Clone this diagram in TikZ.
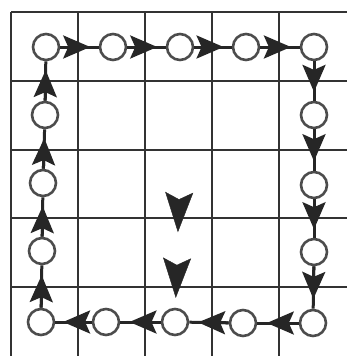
\documentclass[tikz,border=0pt]{standalone}
\usepackage{tikz}
\usetikzlibrary{arrows.meta,decorations.markings,calc}

\tikzset{
  cell/.style={line width=2.2pt, black!80},
  ring/.style={circle, draw=black!70, line width=2.6pt, fill=white, minimum size=26pt, inner sep=0pt},
  wire/.style={line width=3pt, black!85},
  head/.style={line width=3pt, black!85, -{Stealth[length=27pt, width=23pt, inset=5pt]}},
  drop/.style={postaction={decorate},
    decoration={markings,
      mark=at position 0.46 with {\arrow[black!85]{Stealth[length=40pt, width=28pt, inset=7pt]}},
      mark=at position 0.93 with {\arrow[black!85]{Stealth[length=40pt, width=28pt, inset=7pt]}}}}
}

\begin{document}
\begin{tikzpicture}[x=1pt, y=-1pt]
\useasboundingbox (0,0) rectangle (347,356);
% grid
\draw [cell] (11,12) -- (11,356);
\draw [cell] (78,12) -- (78,356);
\draw [cell] (145,12) -- (145,356);
\draw [cell] (212,12) -- (212,356);
\draw [cell] (279,12) -- (279,356);
\draw [cell] (11,12) -- (347,12);
\draw [cell] (11,81) -- (347,81);
\draw [cell] (11,150) -- (347,150);
\draw [cell] (11,218) -- (347,218);
\draw [cell] (11,287) -- (347,287);

% top row
\node [ring] (t1) at (46,47) {};
\node [ring] (t2) at (113,47) {};
\node [ring] (t3) at (180,47) {};
\node [ring] (t4) at (246,47) {};
\node [ring] (t5) at (314,47) {};
% right column
\node [ring] (r2) at (314,115) {};
\node [ring] (r3) at (314,185) {};
\node [ring] (r4) at (314,252) {};
\node [ring] (r5) at (313,323) {};
% bottom row
\node [ring] (b4) at (243,323) {};
\node [ring] (b3) at (175,322) {};
\node [ring] (b2) at (106,322) {};
\node [ring] (b1) at (41,322) {};
% left column
\node [ring] (l4) at (42,251) {};
\node [ring] (l3) at (43,183) {};
\node [ring] (l2) at (45,115) {};

\coordinate (feed) at (180,168);

% the loop
\foreach \a/\b in {t1/t2, t2/t3, t3/t4, t4/t5, t5/r2, r2/r3, r3/r4, r4/r5,
                   r5/b4, b4/b3, b3/b2, b2/b1, b1/l4, l4/l3, l3/l2, l2/t1} {
  \draw [wire] (\a) -- (\b);
  \draw [head] (\a) -- ($(\a)!0.66!(\b)$);
}
\path [drop] (feed) -- (b3);
\end{tikzpicture}
\end{document}
